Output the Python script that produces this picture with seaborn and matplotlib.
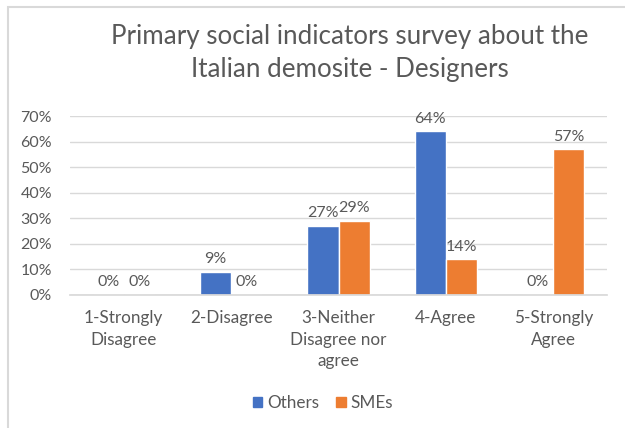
import matplotlib
matplotlib.use("Agg")
import matplotlib.pyplot as plt
import matplotlib.patches as mpatches
import seaborn as sns
import pandas as pd

categories = ["1-Strongly\nDisagree", "2-Disagree", "3-Neither\nDisagree nor\nagree",
              "4-Agree", "5-Strongly\nAgree"]
others = [0.00, 0.09, 0.27, 0.64, 0.00]
smes = [0.00, 0.00, 0.29, 0.14, 0.57]
series_names = ["Others", "SMEs"]
yticks = [0, 0.1, 0.2, 0.3, 0.4, 0.5, 0.6, 0.7]
title = "Primary social indicators survey about the\nItalian demosite - Designers"

colors = ["#4472C4", "#ED7D31"]
text_color = "#595959"

df = pd.DataFrame({
    "category": categories * 2,
    "series": [series_names[0]] * len(categories) + [series_names[1]] * len(categories),
    "value": others + smes,
})

sns.set_theme(style="white")
plt.rcParams["font.family"] = ["Lato", "DejaVu Sans"]

fig = plt.figure(figsize=(6.25, 4.28), dpi=100)
ax = fig.add_axes([70 / 625, 1 - 295 / 428, (607 - 70) / 625, (295 - 116) / 428])

sns.barplot(data=df, x="category", y="value", hue="series", palette=colors,
            order=categories, hue_order=series_names, width=0.58,
            saturation=1, ax=ax, legend=False, errorbar=None)

for container in ax.containers:
    ax.bar_label(container, labels=[f"{v:.0%}" for v in container.datavalues],
                 padding=4, fontsize=11.5, color=text_color)

ax.set_ylim(0, 0.7)
ax.set_yticks(yticks)
ax.set_yticklabels([f"{t:.0%}" for t in yticks])
ax.yaxis.grid(True, color="#D9D9D9", linewidth=1)
ax.set_axisbelow(True)
ax.set_xlabel("")
ax.set_ylabel("")
for side in ["top", "right", "left"]:
    ax.spines[side].set_visible(False)
ax.spines["bottom"].set_color("#D9D9D9")
ax.tick_params(axis="both", length=0, colors=text_color)
ax.tick_params(axis="x", pad=11, labelsize=12.3)
ax.tick_params(axis="y", pad=13, labelsize=11.5)
for lbl in ax.get_xticklabels():
    lbl.set_linespacing(1.42)

fig.text(350 / 625, 1 - 53 / 428, title, ha="center", va="center",
         fontsize=18.7, color=text_color, linespacing=1.36)

handles = [mpatches.Patch(color=c, label=n) for c, n in zip(colors, series_names)]
fig.legend(handles=handles, loc="center", bbox_to_anchor=(323 / 625, 1 - 403 / 428),
           ncol=2, frameon=False, fontsize=12.3, labelcolor=text_color,
           handlelength=0.55, handleheight=0.55, handletextpad=0.3, columnspacing=1.0)

fig.patches.append(mpatches.Rectangle((8 / 625, -0.1), 1.2, 1.1 - 7 / 428,
                                      transform=fig.transFigure, fill=False,
                                      edgecolor="#D9D9D9", linewidth=1.5))

fig.savefig("out.png", dpi=100)
